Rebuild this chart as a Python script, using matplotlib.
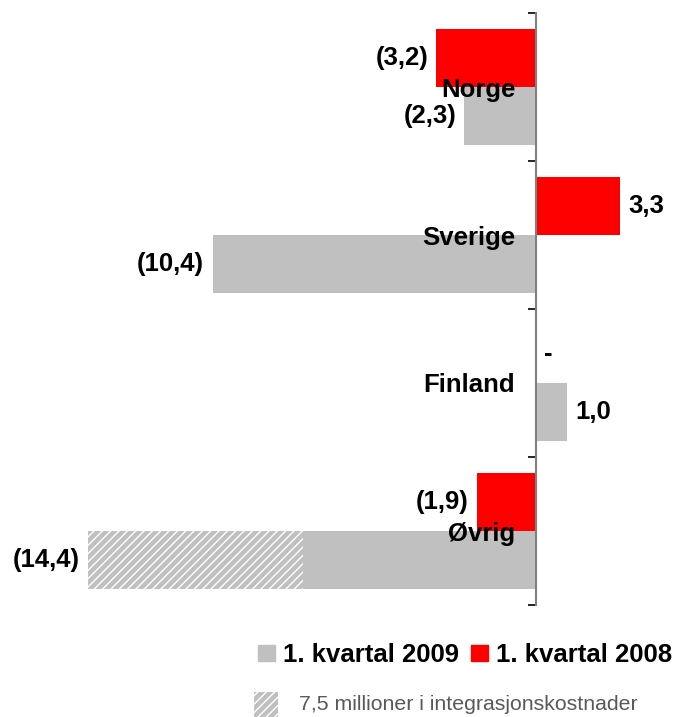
import matplotlib.pyplot as plt
from matplotlib.patches import Patch, Rectangle

plt.rcParams['font.family'] = ['Liberation Sans', 'DejaVu Sans']
plt.rcParams['hatch.linewidth'] = 1.0

# Data
countries = ["Norge", "Sverige", "Finland", "Øvrig"]
q1_2009 = [-2.3, -10.4, 1.0, -14.4]
q1_2008 = [-3.2, 2.7, 0.0, -1.9]
labels_2009 = ["(2,3)", "(10,4)", "1,0", "(14,4)"]
labels_2008 = ["(3,2)", "3,3", "-", "(1,9)"]
ovrig_solid = -7.5   # hatched part of Øvrig runs from here to the bar end
legend_names = ["1. kvartal 2009", "1. kvartal 2008"]
note = "7,5 millioner i integrasjonskostnader"

gray = "#c0c0c0"
red = "#ff0000"
fs = 18.5

fig = plt.figure(figsize=(6.81, 7.17), dpi=100)
ax = fig.add_axes([0, 112 / 717, 1, 592 / 717])

# spines first: moving the spine resets the ticks
for s in ["top", "right", "bottom"]:
    ax.spines[s].set_visible(False)
ax.spines["left"].set_position(("data", 0))
ax.spines["left"].set_color("#808080")
ax.spines["left"].set_linewidth(1.5)
ax.spines["left"].set_zorder(3)

h = 0.389
pos = list(range(len(countries)))
ax.barh([p - h / 2 for p in pos], q1_2008, height=h, color=red, zorder=1)
ax.barh([p + h / 2 for p in pos], q1_2009, height=h, color=gray, zorder=1)

# hatched integration cost part of Øvrig
ax.barh(3 + h / 2, q1_2009[3] - ovrig_solid, left=ovrig_solid, height=h,
        facecolor=gray, hatch="////", edgecolor="white", linewidth=0, zorder=1.5)

for p, v, t in zip(pos, q1_2008, labels_2008):
    ax.annotate(t, (v, p - h / 2), xytext=(6 if v >= 0 else -6, 0),
                textcoords="offset points", ha="left" if v >= 0 else "right",
                va="center", fontsize=fs, fontweight="bold")
for p, v, t in zip(pos, q1_2009, labels_2009):
    ax.annotate(t, (v, p + h / 2), xytext=(6 if v >= 0 else -6, 0),
                textcoords="offset points", ha="left" if v >= 0 else "right",
                va="center", fontsize=fs, fontweight="bold")

ax.set_xlim(-536 / 31.1, 145 / 31.1)
ax.set_ylim(3.5, -0.5)
ax.set_xticks([])
ax.set_yticks([-0.5, 0.5, 1.5, 2.5, 3.5], minor=True)
ax.tick_params(axis="y", which="minor", length=6, width=1.2, color="black")
ax.set_yticks(pos)
ax.tick_params(axis="y", which="major", length=0, pad=15)
ax.set_yticklabels(countries, fontsize=fs, fontweight="bold")

handles = [Patch(color=gray), Patch(color=red)]
fig.legend(handles, legend_names, loc="center", bbox_to_anchor=(465 / 681, 1 - 655 / 717),
           ncol=2, frameon=False, prop={"size": fs, "weight": "bold"},
           handlelength=0.65, handleheight=0.6, handletextpad=0.3, columnspacing=0.5)

fig.add_artist(Rectangle((254 / 681, 0), 24 / 681, 25 / 717,
                         transform=fig.transFigure, facecolor=gray, hatch="////",
                         edgecolor="white", linewidth=0))
fig.text(299 / 681, 1 - 705 / 717, note, fontsize=15.3, color="#595959", va="center")

fig.savefig("out.png", dpi=100)
